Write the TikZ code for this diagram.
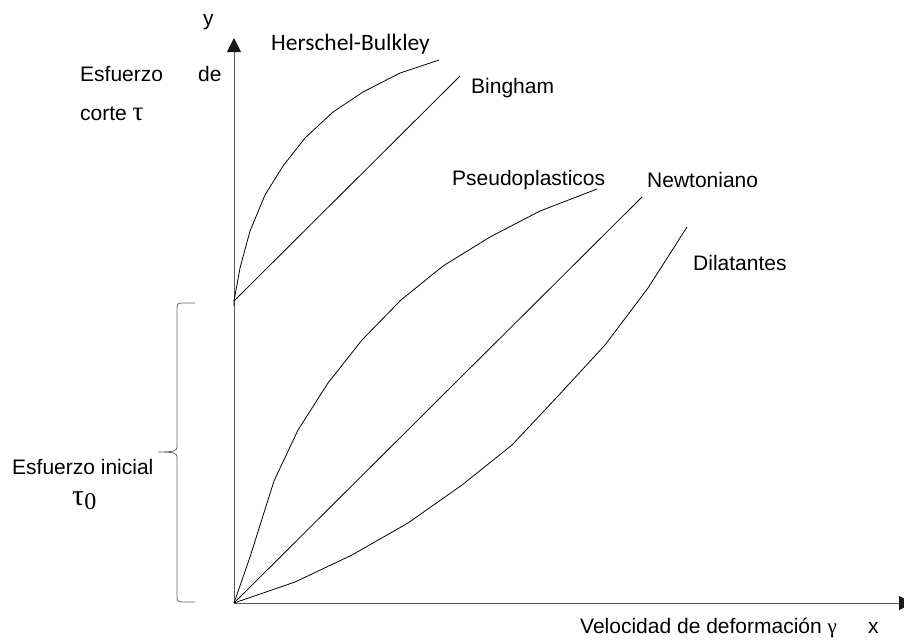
\documentclass[tikz,border=0pt]{standalone}
\usepackage{fontspec}
\setmainfont{Liberation Sans}
\newfontfamily\carlito{Carlito}
\newfontfamily\greekfont{Liberation Serif}
\usetikzlibrary{arrows.meta}
\tikzset{
  axisline/.style={draw=black!65, line width=1pt},
  curveline/.style={draw=black, line width=0.8pt, line join=round},
  bracket/.style={draw=black!60, line width=0.8pt},
  lbl/.style={anchor=base west, inner sep=0pt, font=\fontsize{21}{25}\selectfont},
  lblc/.style={anchor=base west, inner sep=0pt, font=\carlito\fontsize{23.5}{28}\selectfont},
}
\begin{document}
\begin{tikzpicture}[x=1pt,y=-1pt]
\useasboundingbox (0,0) rectangle (904,641);
\clip (0,0) rectangle (904,641);
% axes
\coordinate (O) at (234,603);
\coordinate (Ytip) at (234,38);
\coordinate (Xtip) at (913,603);
\draw[axisline, -{Triangle[width=14pt,length=14pt,fill=black!90,color=black!90]}] (O) -- (Ytip);
\draw[axisline, -{Triangle[width=14pt,length=14pt,fill=black!90,color=black!90]}] (O) -- (Xtip);
% Herschel-Bulkley and Bingham
\coordinate (T0) at (234,301);
\draw[curveline] (234,306) -- (T0) -- (240,268) -- (250,231) -- (265,195) -- (283,166) -- (305,138) -- (333,112) -- (363,92) -- (400,73) -- (439,60);
\draw[curveline] (T0) -- (460,76);
% Pseudoplasticos
\draw[curveline] (O) -- (250,557) -- (274,481) -- (298,430) -- (328,383) -- (362,340) -- (401,300) -- (443,266) -- (490,237) -- (540,211) -- (597,189);
% Newtoniano
\draw[curveline] (O) -- (642,197);
% Dilatantes
\draw[curveline] (O) -- (295,582) -- (352,555) -- (408,523) -- (462,485) -- (512,445) -- (558,396) -- (605,345) -- (648,288) -- (687,227);
% brace
\draw[bracket] (195,303) -- (182,303) .. controls (178,303) and (177,304) .. (177,308) -- (177,447)
  .. controls (177,451) and (174,452) .. (158,452)
  .. controls (174,452) and (177,453) .. (177,457) -- (177,597)
  .. controls (177,601) and (178,602) .. (182,602) -- (195,602);
% labels
\node[lbl] (ylab) at (203,25) {y};
\node[lbl] (esf) at (80,81) {Esfuerzo};
\node[lbl] (de) at (198,81) {de};
\node[lbl] (corte) at (80,120) {corte \greekfont\fontsize{27}{30}\selectfont τ};
\node[lblc] (hb) at (271,50) {Herschel-Bulkley};
\node[lbl] (bing) at (471,93) {Bingham};
\node[lbl] (pseudo) at (452,185) {Pseudoplasticos};
\node[lbl] (newt) at (647,187) {Newtoniano};
\node[lbl] (dil) at (693,270) {Dilatantes};
\node[lbl] (ini) at (12,474) {Esfuerzo inicial};
\node[anchor=base west, inner sep=0pt, font=\greekfont\fontsize{30}{32}\selectfont] (tau0) at (72,505) {τ\raisebox{-4pt}{\fontsize{24}{26}\selectfont 0}};
\node[lbl] (vel) at (580,633) {Velocidad de deformación \greekfont γ};
\node[lbl] (xlab) at (868,633) {x};
\end{tikzpicture}
\end{document}
